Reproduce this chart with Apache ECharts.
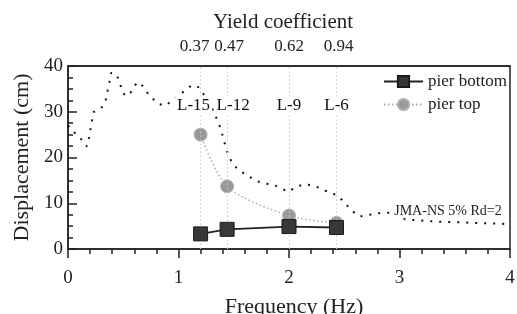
<!DOCTYPE html>
<html>
<head>
<meta charset="utf-8">
<script src="https://cdn.jsdelivr.net/npm/echarts@6/dist/echarts.min.js"></script>
<style>
  html, body { margin: 0; padding: 0; background: #fff; }
  #chart { width: 517px; height: 314px; }
</style>
</head>
<body>
<div id="chart"></div>
<script>
// model levels and their natural frequencies
const levels = ['L-15', 'L-12', 'L-9', 'L-6'];
const freqs = [1.2, 1.44, 2.0, 2.43];
const yieldCoef = ['0.37', '0.47', '0.62', '0.94'];

// peak displacement (cm)
const pierBottom = [3.3, 4.3, 4.9, 4.7];
const pierTop = [25.0, 13.7, 7.3, 5.7];

// JMA-NS 5% Rd=2 displacement spectrum
const specFreq = [0.0, 0.06, 0.12, 0.17, 0.19, 0.21, 0.23, 0.27, 0.315, 0.345, 0.36, 0.375, 0.39, 0.44, 0.47, 0.49, 0.525, 0.58, 0.62, 0.66, 0.705, 0.754, 0.81, 0.88, 1.0, 1.12, 1.19, 1.3, 1.367, 1.39, 1.41, 1.43, 1.46, 1.49, 1.54, 1.63, 1.70, 1.77, 1.86, 1.93, 1.99, 2.07, 2.13, 2.2, 2.28, 2.35, 2.43, 2.5, 2.56, 2.64, 2.71, 2.80, 2.89, 2.97, 3.05, 3.14, 3.32, 3.57, 3.93, 4.0];
const specDisp = [27.0, 25.4, 24.0, 22.4, 24.2, 27.0, 29.9, 30.5, 31.1, 32.8, 34.8, 36.6, 38.5, 38.1, 36.3, 34.4, 33.4, 34.5, 36.3, 36.2, 34.5, 33.2, 31.8, 31.3, 33.5, 35.8, 35.3, 31.0, 27.3, 25.6, 23.8, 22.0, 20.0, 18.7, 17.3, 16.0, 14.9, 14.4, 14.0, 13.3, 12.5, 13.6, 14.1, 14.0, 13.3, 12.5, 11.8, 10.3, 8.5, 7.1, 7.4, 7.8, 7.9, 7.8, 6.5, 6.3, 6.0, 5.8, 5.5, 5.4];

const xTicks = [0, 1, 2, 3, 4];
const yTicks = [0, 10, 20, 30, 40];
const spectrumName = 'JMA-NS 5% Rd=2';

const font = '"Liberation Serif", "DejaVu Serif", serif';
const ink = '#222';

// nudges so the two close labels on the left don't collide
const topRich = {
  s0: { padding: [0, 12, 0, 0], fontFamily: font, fontSize: 17, color: ink },
  s1: { padding: [0, 0, 0, 4], fontFamily: font, fontSize: 17, color: ink },
  s2: { fontFamily: font, fontSize: 17, color: ink },
  s3: { padding: [0, 0, 0, 4], fontFamily: font, fontSize: 17, color: ink }
};

const chart = echarts.init(document.getElementById('chart'));

chart.setOption({
  animation: false,
  textStyle: { fontFamily: font, color: ink },
  grid: {
    left: 68, right: 7, top: 66, bottom: 65,
    outerBoundsMode: 'none',
    show: true, borderColor: ink, borderWidth: 1.5
  },
  legend: {
    orient: 'vertical',
    left: 383,
    top: 73,
    itemWidth: 39,
    itemHeight: 14,
    itemGap: 6,
    backgroundColor: '#fff',
    padding: 0,
    textStyle: { fontFamily: font, fontSize: 17, color: ink },
    data: ['pier bottom', 'pier top']
  },
  xAxis: [{
    type: 'value',
    min: xTicks[0],
    max: xTicks[xTicks.length - 1],
    interval: 1,
    name: 'Frequency (Hz)',
    nameLocation: 'middle',
    nameGap: 47,
    nameTextStyle: { fontFamily: font, fontSize: 22, color: ink, padding: [0, 0, 0, 10] },
    axisLine: { lineStyle: { color: ink, width: 1.5 } },
    axisTick: { inside: false, length: 9, lineStyle: { color: ink, width: 1.5 } },
    minorTick: { show: true, splitNumber: 5, length: 5, lineStyle: { color: ink, width: 1.5 } },
    axisLabel: { margin: 20, fontSize: 19, color: ink, fontFamily: font },
    splitLine: { show: false }
  }, {
    type: 'value',
    position: 'top',
    min: xTicks[0],
    max: xTicks[xTicks.length - 1],
    name: 'Yield coefficient',
    nameLocation: 'middle',
    nameGap: 33,
    nameTextStyle: { fontFamily: font, fontSize: 21, color: ink, padding: [0, 12, 0, 0] },
    axisLine: { show: true, lineStyle: { color: ink, width: 1.5 } },
    axisTick: { show: false },
    axisLabel: {
      customValues: freqs,
      hideOverlap: false,
      margin: 11,
      fontSize: 17,
      color: ink,
      fontFamily: font,
      rich: topRich,
      formatter: v => {
        const i = freqs.indexOf(v);
        return i < 0 ? '' : '{s' + i + '|' + yieldCoef[i] + '}';
      }
    },
    splitLine: { show: false }
  }],
  yAxis: {
    type: 'value',
    min: yTicks[0],
    max: yTicks[yTicks.length - 1],
    interval: 10,
    name: 'Displacement (cm)',
    nameLocation: 'middle',
    nameGap: 35,
    nameTextStyle: { fontFamily: font, fontSize: 22, color: ink },
    axisLine: { show: true, lineStyle: { color: ink, width: 1.5 } },
    axisTick: { inside: true, length: 9, lineStyle: { color: ink, width: 1.5 } },
    minorTick: { show: true, splitNumber: 4, length: 5, lineStyle: { color: ink, width: 1.5 } },
    axisLabel: { margin: 5, fontSize: 19, color: ink, fontFamily: font },
    splitLine: { show: false }
  },
  series: [{
    name: spectrumName,
    type: 'line',
    data: specFreq.map((f, i) => [f, specDisp[i]]),
    showSymbol: false,
    symbol: 'none',
    lineStyle: { color: '#111', width: 2, type: [2, 7] },
    z: 2,
    markPoint: {
      symbolSize: 0,
      data: [{ coord: [3.97, 8.3] }],
      label: {
        show: true,
        position: 'left',
        formatter: spectrumName,
        fontFamily: font,
        fontSize: 14,
        color: ink,
        backgroundColor: '#fff'
      }
    }
  }, {
    name: 'pier top',
    type: 'line',
    data: freqs.map((f, i) => [f, pierTop[i]]),
    smooth: 0.3,
    symbol: 'circle',
    symbolSize: 13,
    itemStyle: { color: '#999', borderColor: '#b0b0b0', borderWidth: 1 },
    lineStyle: { color: '#aaa', width: 1.5, type: [1.5, 2.5] },
    z: 4
  }, {
    name: 'pier bottom',
    type: 'line',
    data: freqs.map((f, i) => [f, pierBottom[i]]),
    symbol: 'rect',
    symbolSize: 14,
    itemStyle: { color: '#383838', borderColor: '#1a1a1a', borderWidth: 1 },
    lineStyle: { color: ink, width: 1.8 },
    z: 5,
    markLine: {
      silent: true,
      symbol: 'none',
      label: { show: false },
      lineStyle: { color: '#c8c8c8', width: 1, type: [1.5, 2.5] },
      data: freqs.map(f => ({ xAxis: f }))
    }
  }, {
    name: 'levels',
    type: 'scatter',
    data: freqs.map((f, i) => [f, 31.3]),
    symbolSize: 0,
    itemStyle: { opacity: 1 },
    z: 6,
    label: {
      show: true,
      position: 'inside',
      fontFamily: font,
      fontSize: 17,
      color: '#111',
      backgroundColor: '#fff',
      padding: [1, 2],
      formatter: p => levels[p.dataIndex]
    },
    labelLayout: p => ({ dx: p.dataIndex === 0 ? -7 : (p.dataIndex === 1 ? 6 : 0) })
  }]
});
</script>
</body>
</html>
